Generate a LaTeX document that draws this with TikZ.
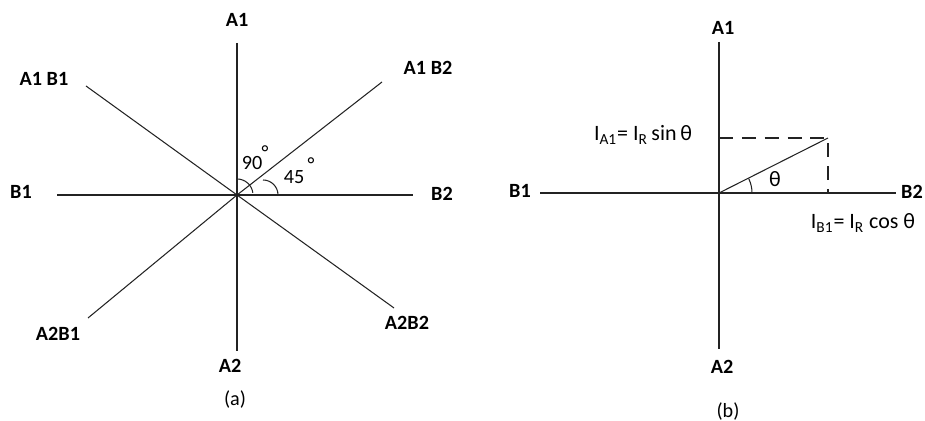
\documentclass[tikz,border=0pt]{standalone}
\usepackage{fontspec}
\setmainfont{Carlito}
\usepackage{xcolor}
\usetikzlibrary{positioning}
\definecolor{axisgray}{RGB}{35,35,35}

\begin{document}
\begin{tikzpicture}[x=0.02cm, y=0.02cm,
  ax/.style={line width=0.85pt, color=axisgray},
  diag/.style={line width=0.6pt, color=axisgray},
  lbl/.style={font=\fontsize{11.5}{13}\selectfont\bfseries, inner sep=0pt},
  eqlbl/.style={font=\fontsize{12.5}{14}\selectfont, inner sep=0pt},
  captxt/.style={font=\fontsize{11.5}{13}\selectfont, inner sep=0pt},
  dashln/.style={line width=0.6pt, color=axisgray, dash pattern=on 8pt off 5pt}
]
\useasboundingbox (0,0) rectangle (925,421);
% (a) axes of the two phases
\coordinate (Oa)   at (237,226);
\coordinate (aA1)  at (237,378);
\coordinate (aA2)  at (237,70);
\coordinate (aB1)  at (57,226);
\coordinate (aB2)  at (413,226);
\coordinate (aA1B2) at (382,339);
\coordinate (aA2B1) at (88,103);
\coordinate (aA1B1) at (86,335);
\coordinate (aA2B2) at (394,113);
\draw[ax]   (aA1) -- (aA2);
\draw[ax]   (aB1) -- (aB2);
\draw[diag] (aA2B1) -- (Oa) -- (aA1B2);
\draw[diag] (aA1B1) -- (Oa) -- (aA2B2);
\draw[diag] (Oa) ++(0,16) arc[start angle=90, end angle=8, radius=16];
\draw[diag] (Oa) ++(26,15) arc[start angle=90, end angle=0, radius=15];
\node[lbl] (la1)   at (237,401) {A1};
\node[lbl] (la1b1) at (44,342)  {A1 B1};
\node[lbl] (la1b2) at (428,353) {A1 B2};
\node[lbl] (lb1)   at (21,229)  {B1};
\node[lbl] (lb2)   at (442,227) {B2};
\node[lbl] (la2b1) at (58,87)   {A2B1};
\node[lbl] (la2b2) at (407,98)  {A2B2};
\node[lbl] (la2)   at (230,55)  {A2};
\node[captxt] (n90)   at (252,258) {90};
\node[captxt] (d90)   at (265,268) {°};
\node[captxt] (n45)   at (294,244) {45};
\node[captxt] (d45)   at (311,256) {°};
\node[captxt] (capa)  at (235,21)  {(a)};

% (b) resolving I_R on the two axes
\coordinate (Ob)  at (719,228);
\coordinate (bA1) at (719,379);
\coordinate (bA2) at (719,72);
\coordinate (bB1) at (540,228);
\coordinate (bB2) at (896,228);
\coordinate (IR)  at (828,283);
\coordinate (IRy) at (719,283);
\coordinate (IRx) at (828,228);
\draw[ax]   (bA1) -- (bA2);
\draw[ax]   (bB1) -- (bB2);
\draw[diag] (Ob) -- (IR);
\draw[dashln] (IRy) -- (IR) -- (IRx);
\draw[diag] (Ob) ++(33,0) arc[start angle=0, end angle=26, radius=33];
\node[lbl] (lba1) at (723,393) {A1};
\node[lbl] (lba2) at (722,54)  {A2};
\node[lbl] (lbb1) at (520,230) {B1};
\node[lbl] (lbb2) at (912,229) {B2};
\node[eqlbl] (ia1) at (643,286) {I\textsubscript{A1}= I\textsubscript{R}\,sin\,θ};
\node[eqlbl] (ib1) at (863,198) {I\textsubscript{B1}= I\textsubscript{R} cos θ};
\node[eqlbl] (th)  at (775,242) {θ};
\node[captxt] (capb) at (728,9)  {(b)};
\end{tikzpicture}
\end{document}
